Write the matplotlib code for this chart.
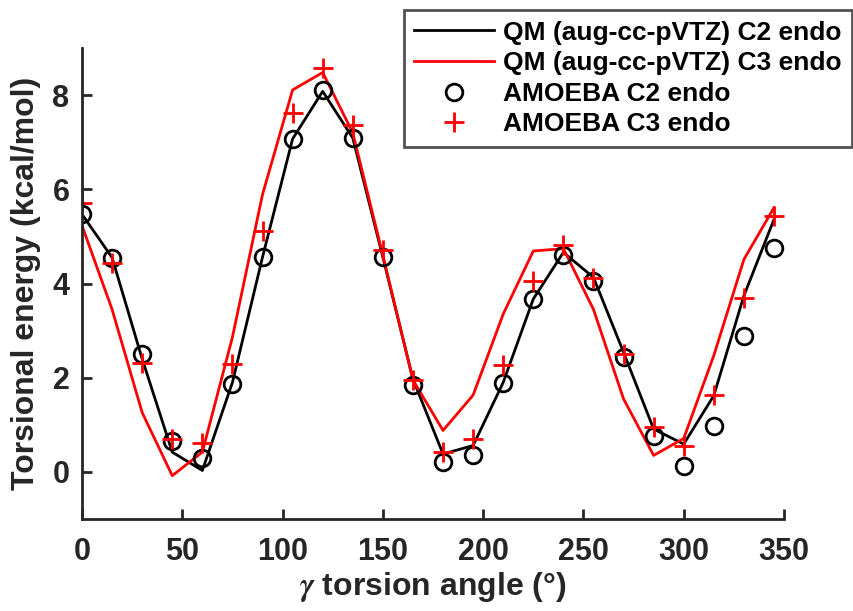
import numpy as np
import matplotlib
matplotlib.use('Agg')
import matplotlib.pyplot as plt

plt.rcParams['font.family'] = ['Liberation Sans', 'DejaVu Sans']
plt.rcParams['font.weight'] = 'bold'
plt.rcParams['mathtext.fontset'] = 'stix'

# torsion angle grid (degrees)
angle = list(range(0, 360, 15))

# QM reference curves
qm_c2 = [5.47, 4.55, 2.40, 0.42, 0.03, 1.90, 4.56, 7.07, 8.08, 7.09, 4.56, 1.97,
         0.38, 0.56, 1.90, 3.67, 4.66, 4.13, 2.54, 0.91, 0.59, 1.62, 3.74, 5.36]
qm_c3 = [5.23, 3.45, 1.26, -0.08, 0.42, 2.86, 5.89, 8.11, 8.48, 7.20, 4.60, 1.95,
         0.88, 1.63, 3.35, 4.69, 4.74, 3.45, 1.55, 0.35, 0.71, 2.47, 4.51, 5.61]

# AMOEBA fitted points
amoeba_c2 = [5.47, 4.55, 2.50, 0.65, 0.30, 1.86, 4.56, 7.07, 8.11, 7.09, 4.56, 1.84,
             0.20, 0.36, 1.89, 3.67, 4.60, 4.05, 2.43, 0.77, 0.13, 0.97, 2.89, 4.76]
amoeba_c3 = [5.71, 4.44, 2.32, 0.70, 0.61, 2.29, 5.11, 7.62, 8.57, 7.37, 4.72, 1.95,
             0.42, 0.70, 2.27, 4.05, 4.82, 4.12, 2.50, 0.95, 0.56, 1.63, 3.70, 5.43]

fig = plt.figure(figsize=(8.54, 6.11), dpi=100)
ax = fig.add_axes([82 / 854, 1 - 519 / 611, 702 / 854, 471 / 611])

ax.plot(angle, qm_c2, color='black', lw=2, label='QM (aug-cc-pVTZ) C2 endo')
ax.plot(angle, qm_c3, color='red', lw=2, label='QM (aug-cc-pVTZ) C3 endo')
ax.plot(angle, amoeba_c2, 'o', mfc='none', mec='black', mew=2, ms=12, label='AMOEBA C2 endo')
ax.plot(angle, amoeba_c3, '+', color='red', mew=2, ms=14, label='AMOEBA C3 endo')

ax.set_xlim(0, 350)
ax.set_ylim(-1, 9)
ax.set_xticks(range(0, 351, 50))
ax.set_yticks([0, 2, 4, 6, 8])

for s in ['top', 'right']:
    ax.spines[s].set_visible(False)
for s in ['left', 'bottom']:
    ax.spines[s].set_linewidth(2)
    ax.spines[s].set_color('#262626')
ax.tick_params(direction='in', length=7, width=2, color='#262626',
               labelsize=22, labelcolor='#262626')
ax.tick_params(axis='x', pad=13)
ax.tick_params(axis='y', pad=9)

ax.set_xlabel(r'$\gamma$ torsion angle (°)', fontsize=23, fontweight='bold',
              color='#262626', labelpad=2)
ax.set_ylabel('Torsional energy (kcal/mol)', fontsize=23, fontweight='bold',
              color='#262626', labelpad=8)

leg = ax.legend(loc='upper right', bbox_to_anchor=(852 / 854, 1 - 10 / 611),
                bbox_transform=fig.transFigure, borderaxespad=0,
                fontsize=19, frameon=True, fancybox=False, edgecolor='#262626',
                handlelength=3.0, borderpad=0.4, labelspacing=0.25, handletextpad=0.35)
leg.get_frame().set_linewidth(2)

fig.savefig('out.png', dpi=100)
